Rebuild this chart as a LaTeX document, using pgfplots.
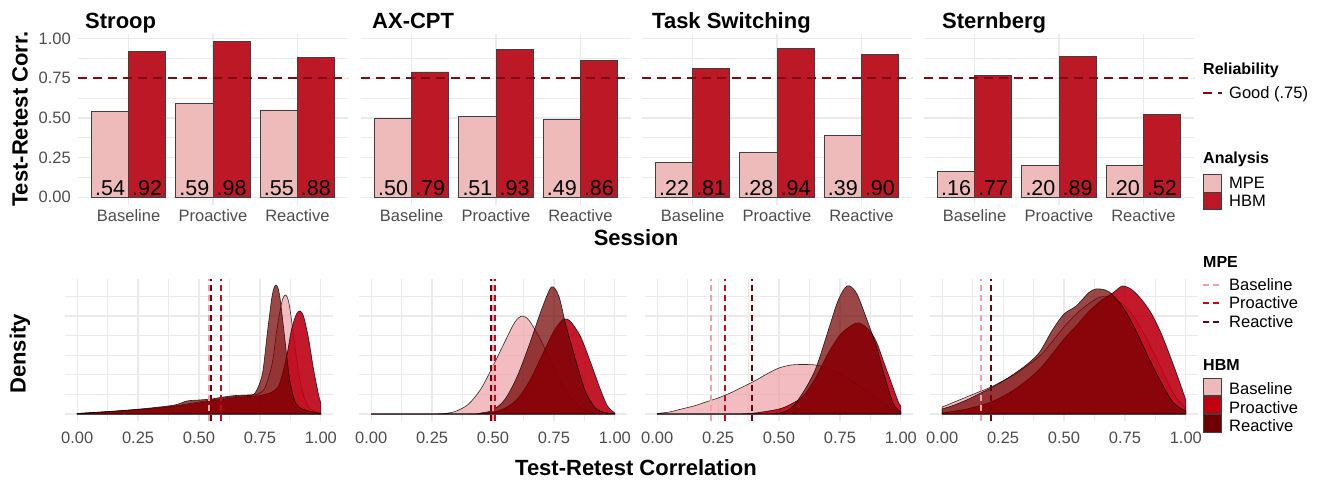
\documentclass[border=0pt]{standalone}
\usepackage{fontspec}
\setmainfont{Liberation Sans}
\usepackage{pgfplots}
\pgfplotsset{compat=1.18}
\definecolor{gridgray}{RGB}{235,235,235}
\definecolor{tickgray}{RGB}{77,77,77}
\definecolor{mpebar}{RGB}{239,186,186}
\definecolor{hbmbar}{RGB}{189,24,38}
\definecolor{goodline}{RGB}{128,10,20}
\definecolor{dbase}{RGB}{236,160,165}
\definecolor{dpro}{RGB}{190,0,20}
\definecolor{dreac}{RGB}{115,0,0}
\definecolor{lbase}{RGB}{242,160,170}
\definecolor{lpro}{RGB}{195,10,30}
\definecolor{lreac}{RGB}{110,0,10}
\definecolor{kbase}{RGB}{240,185,185}
\definecolor{kpro}{RGB}{195,0,15}
\definecolor{kreac}{RGB}{110,0,0}
\newcommand\ticksize{\fontsize{16.5}{19}\selectfont}
\newcommand\titlesize{\fontsize{22}{26}\selectfont\bfseries}
\newcommand\legsize{\fontsize{16.5}{19}\selectfont}
\newcommand\legtitle{\fontsize{16}{19}\selectfont\bfseries}
\newcommand\barsize{\fontsize{21.5}{24}\selectfont}
\tikzset{
  barlab/.style={font=\barsize, text=black, anchor=base, inner sep=0pt, yshift=2pt},
  goodl/.style={draw=goodline, dash pattern=on 9pt off 6pt, line width=1.6pt},
  mB/.style={draw=lbase, dash pattern=on 6pt off 4pt, line width=2pt},
  mP/.style={draw=lpro, dash pattern=on 6pt off 4pt, line width=2pt},
  mR/.style={draw=lreac, dash pattern=on 6pt off 4pt, line width=2pt},
}
\pgfplotsset{
  panelbase/.style={scale only axis, anchor=south west, axis line style={draw=none},
    major tick style={draw=none}, minor tick style={draw=none},
    tick label style={font=\ticksize, text=tickgray},
    grid style={draw=gridgray, line width=1.2pt},
    minor grid style={draw=gridgray, line width=0.6pt}},
  toppanel/.style={panelbase, width=270pt, height=171pt, xmin=0.4, xmax=3.6,
    ymin=-0.049, ymax=1.029, xtick={1,2,3}, xticklabels={Baseline,Proactive,Reactive},
    ytick={0,0.25,0.5,0.75,1}, minor ytick={0.125,0.375,0.625,0.875},
    xmajorgrids, ymajorgrids, yminorgrids, yticklabels={},
    xticklabel style={anchor=north, inner sep=0pt, yshift=-4pt}},
  botpanel/.style={panelbase, width=268pt, height=142pt, xmin=-0.05, xmax=1.05,
    ymin=-7, ymax=135, xtick={0,0.25,0.5,0.75,1},
    xticklabels={0.00,0.25,0.50,0.75,1.00},
    minor xtick={0.125,0.375,0.625,0.875},
    ytick={0,19.6,39.2,58.8,78.4,98,117.6}, yticklabels={},
    xmajorgrids, xminorgrids, ymajorgrids,
    xticklabel style={anchor=north, inner sep=0pt, yshift=-11pt}},
  mpebars/.style={ybar, bar width=0.44, bar shift=-0.22, fill=mpebar, draw=black!75, line width=0.8pt},
  hbmbars/.style={ybar, bar width=0.44, bar shift=0.22, fill=hbmbar, draw=black!75, line width=0.8pt},
  dB/.style={fill=dbase, fill opacity=0.7, draw=black, draw opacity=0.8, line width=0.6pt, smooth, tension=0.5},
  dP/.style={fill=dpro, fill opacity=0.9, draw=black, draw opacity=0.8, line width=0.6pt, smooth, tension=0.5},
  dR/.style={fill=dreac, fill opacity=0.72, draw=black, draw opacity=0.8, line width=0.6pt, smooth, tension=0.5},
}
\begin{document}
\begin{tikzpicture}[x=1pt,y=1pt]
\path[use as bounding box] (0,0) rectangle (1324,482);
% ---------------- top row ----------------
\begin{axis}[toppanel, at={(78pt,277pt)}, yticklabels={0.00,0.25,0.50,0.75,1.00},
  yticklabel style={anchor=east, inner sep=0pt, xshift=-7pt}]
\addplot[mpebars] coordinates {(1,0.54) (2,0.59) (3,0.55)};
\addplot[hbmbars] coordinates {(1,0.92) (2,0.98) (3,0.88)};
\addplot[goodl] coordinates {(0.4,0.75) (3.6,0.75)};
\node[barlab] at (0.78,0) {.54}; \node[barlab] at (1.22,0) {.92};
\node[barlab] at (1.78,0) {.59}; \node[barlab] at (2.22,0) {.98};
\node[barlab] at (2.78,0) {.55}; \node[barlab] at (3.22,0) {.88};
\end{axis}
\begin{axis}[toppanel, at={(361pt,277pt)}]
\addplot[mpebars] coordinates {(1,0.50) (2,0.51) (3,0.49)};
\addplot[hbmbars] coordinates {(1,0.79) (2,0.93) (3,0.86)};
\addplot[goodl] coordinates {(0.4,0.75) (3.6,0.75)};
\node[barlab] at (0.78,0) {.50}; \node[barlab] at (1.22,0) {.79};
\node[barlab] at (1.78,0) {.51}; \node[barlab] at (2.22,0) {.93};
\node[barlab] at (2.78,0) {.49}; \node[barlab] at (3.22,0) {.86};
\end{axis}
\begin{axis}[toppanel, at={(642pt,277pt)}]
\addplot[mpebars] coordinates {(1,0.22) (2,0.28) (3,0.39)};
\addplot[hbmbars] coordinates {(1,0.81) (2,0.94) (3,0.90)};
\addplot[goodl] coordinates {(0.4,0.75) (3.6,0.75)};
\node[barlab] at (0.78,0) {.22}; \node[barlab] at (1.22,0) {.81};
\node[barlab] at (1.78,0) {.28}; \node[barlab] at (2.22,0) {.94};
\node[barlab] at (2.78,0) {.39}; \node[barlab] at (3.22,0) {.90};
\end{axis}
\begin{axis}[toppanel, at={(924pt,277pt)}]
\addplot[mpebars] coordinates {(1,0.16) (2,0.20) (3,0.20)};
\addplot[hbmbars] coordinates {(1,0.77) (2,0.89) (3,0.52)};
\addplot[goodl] coordinates {(0.4,0.75) (3.6,0.75)};
\node[barlab] at (0.78,0) {.16}; \node[barlab] at (1.22,0) {.77};
\node[barlab] at (1.78,0) {.20}; \node[barlab] at (2.22,0) {.89};
\node[barlab] at (2.78,0) {.20}; \node[barlab] at (3.22,0) {.52};
\end{axis}
% ---------------- bottom row ----------------
\begin{axis}[botpanel, at={(65pt,61pt)}]
\addplot[dB] coordinates {(0,0.5) (0.05,1.2) (0.1,2) (0.2,3.5) (0.3,5.5) (0.4,8) (0.45,10) (0.5,12) (0.55,14) (0.6,16) (0.65,17.5) (0.7,18.5) (0.74,20) (0.77,26) (0.8,50) (0.82,85) (0.84,112) (0.855,119) (0.87,110) (0.89,75) (0.91,40) (0.93,18) (0.95,7) (0.97,3) (1.0,1)} \closedcycle;
\addplot[dP] coordinates {(0,0.3) (0.1,1.8) (0.2,3.3) (0.3,5) (0.4,7.5) (0.5,11) (0.6,15) (0.7,17.5) (0.75,18.5) (0.8,22) (0.83,30) (0.86,58) (0.88,85) (0.9,100) (0.915,103) (0.93,97) (0.95,75) (0.97,45) (0.99,20) (1.0,11)} \closedcycle;
\addplot[dR] coordinates {(0,0.5) (0.1,2) (0.2,3.8) (0.3,6) (0.4,9) (0.45,13) (0.5,14) (0.55,15) (0.6,17) (0.65,18.5) (0.7,19) (0.73,21) (0.76,40) (0.78,80) (0.8,118) (0.815,129) (0.83,120) (0.85,80) (0.87,38) (0.89,15) (0.91,7) (0.95,3) (1.0,0.5)} \closedcycle;
\addplot[mB] coordinates {(0.54,-7) (0.54,135)};
\addplot[mP] coordinates {(0.59,-7) (0.59,135)};
\addplot[mR] coordinates {(0.55,-7) (0.55,135)};
\end{axis}
\begin{axis}[botpanel, at={(359pt,61pt)}]
\addplot[dB] coordinates {(0,0) (0.2,0) (0.3,0.5) (0.35,3) (0.4,10) (0.45,25) (0.5,48) (0.55,73) (0.59,92) (0.62,98) (0.65,93) (0.7,72) (0.75,45) (0.8,22) (0.85,8) (0.9,2.5) (0.95,0.8) (1,0.2)} \closedcycle;
\addplot[dP] coordinates {(0,0) (0.4,0) (0.5,2) (0.55,6) (0.6,15) (0.65,33) (0.7,58) (0.75,83) (0.79,95) (0.82,92) (0.86,77) (0.9,52) (0.94,25) (0.97,8) (1,1)} \closedcycle;
\addplot[dR] coordinates {(0,0) (0.4,0) (0.45,1) (0.5,4) (0.55,15) (0.6,38) (0.65,70) (0.7,105) (0.74,127) (0.77,118) (0.8,88) (0.85,45) (0.88,22) (0.92,6) (0.96,1.5) (1,0.3)} \closedcycle;
\addplot[mB] coordinates {(0.50,-7) (0.50,135)};
\addplot[mP] coordinates {(0.51,-7) (0.51,135)};
\addplot[mR] coordinates {(0.49,-7) (0.49,135)};
\end{axis}
\begin{axis}[botpanel, at={(645pt,61pt)}]
\addplot[dB] coordinates {(0,0.5) (0.05,2) (0.1,5) (0.15,8) (0.2,12) (0.25,16) (0.3,21) (0.35,27) (0.4,33) (0.45,40) (0.5,46) (0.55,49) (0.6,49.5) (0.65,49) (0.7,46) (0.75,40) (0.8,33) (0.85,24) (0.9,15) (0.95,7) (1,2)} \closedcycle;
\addplot[dP] coordinates {(0,0) (0.3,0) (0.4,1) (0.5,5) (0.55,10) (0.6,18) (0.65,36) (0.7,60) (0.75,79) (0.8,89) (0.83,91) (0.87,84) (0.9,72) (0.93,52) (0.96,32) (0.99,12) (1,8)} \closedcycle;
\addplot[dR] coordinates {(0,0) (0.4,0) (0.5,1) (0.55,6) (0.6,22) (0.65,45) (0.7,82) (0.74,112) (0.77,126) (0.79,128) (0.82,120) (0.86,95) (0.9,67) (0.94,32) (0.97,10) (1,2)} \closedcycle;
\addplot[mB] coordinates {(0.22,-7) (0.22,135)};
\addplot[mP] coordinates {(0.28,-7) (0.28,135)};
\addplot[mR] coordinates {(0.39,-7) (0.39,135)};
\end{axis}
\begin{axis}[botpanel, at={(930pt,61pt)}]
\addplot[dB] coordinates {(0,7) (0.05,12) (0.1,17) (0.15,22) (0.2,27) (0.3,40) (0.4,58) (0.45,72) (0.5,87) (0.55,100) (0.6,110) (0.65,117) (0.7,116) (0.75,108) (0.8,92) (0.85,70) (0.9,45) (0.95,20) (1,5)} \closedcycle;
\addplot[dP] coordinates {(0,1) (0.1,5) (0.2,12) (0.3,25) (0.4,45) (0.5,75) (0.55,88) (0.6,102) (0.65,113) (0.7,121) (0.74,128) (0.78,124) (0.82,114) (0.86,100) (0.9,80) (0.94,55) (0.97,35) (1,14)} \closedcycle;
\addplot[dR] coordinates {(0,5) (0.05,9) (0.1,14) (0.15,20) (0.2,26) (0.25,33) (0.3,41) (0.35,50) (0.4,62) (0.45,83) (0.5,100) (0.55,108) (0.6,121) (0.63,125) (0.67,124) (0.7,119) (0.75,104) (0.8,81) (0.85,55) (0.9,31) (0.95,11) (1,3)} \closedcycle;
\addplot[mB] coordinates {(0.16,-7) (0.16,135)};
\addplot[mP] coordinates {(0.20,-7) (0.20,135)};
\addplot[mR] coordinates {(0.20,-7) (0.20,135)};
\end{axis}
% ---------------- titles ----------------
\node[anchor=base west, font=\titlesize, inner sep=0pt] at (85,453) {Stroop};
\node[anchor=base west, font=\titlesize, inner sep=0pt] at (372,453) {AX-CPT};
\node[anchor=base west, font=\titlesize, inner sep=0pt] at (652,453) {Task Switching};
\node[anchor=base west, font=\titlesize, inner sep=0pt] at (942,453) {Sternberg};
\node[rotate=90, font=\titlesize, inner sep=0pt] at (20,363) {Test-Retest Corr.};
\node[rotate=90, font=\titlesize, inner sep=0pt] at (20,128) {Density};
\node[font=\titlesize, inner sep=0pt] at (636,244) {Session};
\node[font=\titlesize, inner sep=0pt] at (636,14) {Test-Retest Correlation};
% ---------------- legends ----------------
\node[anchor=base west, font=\legtitle, inner sep=0pt] at (1203,407) {Reliability};
\draw[goodl] (1203,389) -- (1222,389);
\node[anchor=base west, font=\legsize, inner sep=0pt] at (1229,383) {Good (.75)};
\node[anchor=base west, font=\legtitle, inner sep=0pt] at (1203,318) {Analysis};
\draw[fill=mpebar, draw=black!75, line width=0.8pt] (1203,290) rectangle (1221,308);
\draw[fill=hbmbar, draw=black!75, line width=0.8pt] (1203,273) rectangle (1221,290);
\node[anchor=base west, font=\legsize, inner sep=0pt] at (1229,293) {MPE};
\node[anchor=base west, font=\legsize, inner sep=0pt] at (1229,275) {HBM};
\node[anchor=base west, font=\legtitle, inner sep=0pt] at (1203,214) {MPE};
\draw[mB] (1203,197) -- (1220,197);
\draw[mP] (1203,179) -- (1220,179);
\draw[mR] (1203,160) -- (1220,160);
\node[anchor=base west, font=\legsize, inner sep=0pt] at (1229,191) {Baseline};
\node[anchor=base west, font=\legsize, inner sep=0pt] at (1229,173) {Proactive};
\node[anchor=base west, font=\legsize, inner sep=0pt] at (1229,154) {Reactive};
\node[anchor=base west, font=\legtitle, inner sep=0pt] at (1203,112) {HBM};
\draw[fill=kbase, draw=black!75, line width=0.8pt] (1203,87) rectangle (1221,104);
\draw[fill=kpro, draw=black!75, line width=0.8pt] (1203,69) rectangle (1221,86);
\draw[fill=kreac, draw=black!75, line width=0.8pt] (1203,50) rectangle (1221,68);
\node[anchor=base west, font=\legsize, inner sep=0pt] at (1229,88) {Baseline};
\node[anchor=base west, font=\legsize, inner sep=0pt] at (1229,69) {Proactive};
\node[anchor=base west, font=\legsize, inner sep=0pt] at (1229,51) {Reactive};
\end{tikzpicture}
\end{document}
